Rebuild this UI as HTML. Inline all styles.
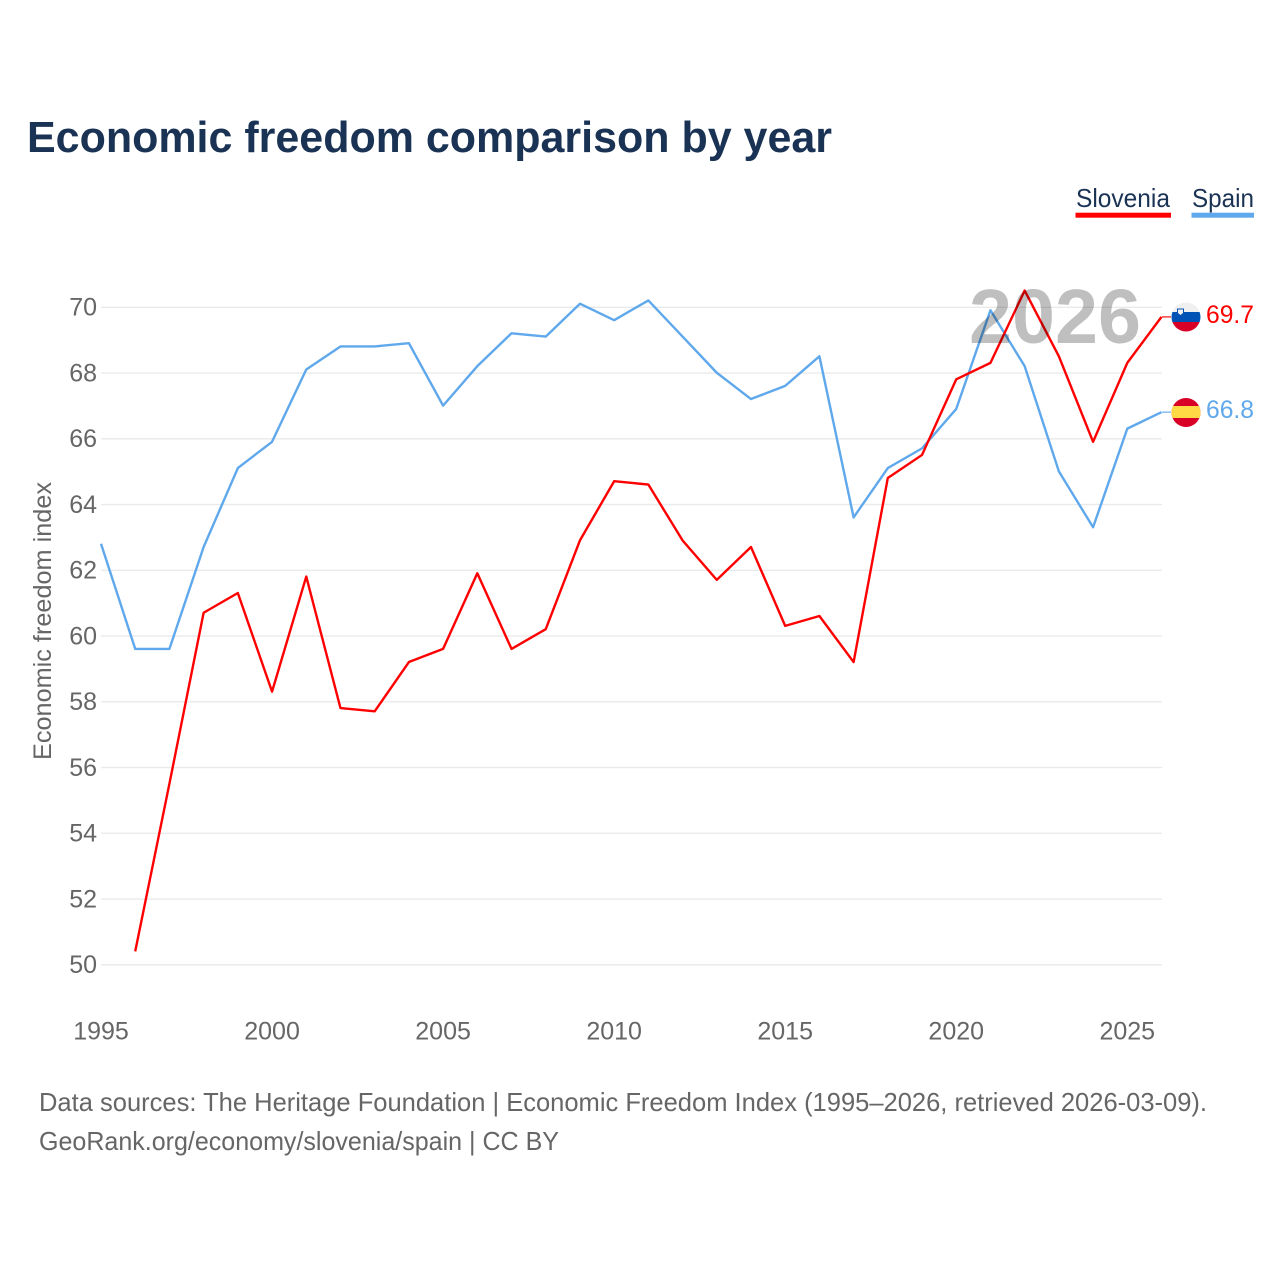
<!DOCTYPE html>
<html lang="en">
<head>
<meta charset="utf-8">
<title>Economic freedom comparison by year</title>
<style>
html,body{margin:0;padding:0;background:#fff;width:1280px;height:1280px;overflow:hidden}
svg{display:block;font-family:"Liberation Sans",sans-serif}
</style>
</head>
<body>
<svg id="chart" width="1280" height="1280" viewBox="0 0 1280 1280" xmlns="http://www.w3.org/2000/svg">
  <defs>
    <clipPath id="flag-clip-si"><circle cx="1186" cy="317" r="14.5"/></clipPath>
    <clipPath id="flag-clip-es"><circle cx="1186" cy="412.5" r="14.5"/></clipPath>
  </defs>
  <rect width="1280" height="1280" fill="#fff"/>
  <text x="27" y="152" font-size="44" font-weight="700" fill="#1a3354" textLength="805" lengthAdjust="spacingAndGlyphs">Economic freedom comparison by year</text>

  <g>
    <g>
      <text x="1076" y="207" font-size="26" fill="#1a3354" textLength="94" lengthAdjust="spacingAndGlyphs">Slovenia</text>
      <rect x="1075.5" y="212.7" width="95.5" height="5" fill="#ff0000"/>
    </g>
    <g>
      <text x="1192" y="207" font-size="26" fill="#1a3354" textLength="62" lengthAdjust="spacingAndGlyphs">Spain</text>
      <rect x="1191.5" y="212.7" width="62.5" height="5" fill="#5fa8ec"/>
    </g>
  </g>

  <g id="grid"></g>
  <g id="y-ticks"></g>
  <g id="x-ticks"></g>
  <text transform="translate(51,621) rotate(-90)" text-anchor="middle" font-size="25" fill="#666" textLength="278" lengthAdjust="spacingAndGlyphs">Economic freedom index</text>

  <g id="series"></g>

  <text x="1055" y="343" text-anchor="middle" font-size="77" font-weight="700" fill="#000" fill-opacity="0.25" textLength="172" lengthAdjust="spacingAndGlyphs">2026</text>

  <g clip-path="url(#flag-clip-si)">
    <rect x="1171" y="302" width="30" height="10" fill="#f0f0f0"/>
    <rect x="1171" y="312" width="30" height="10" fill="#0052b4"/>
    <rect x="1171" y="322" width="30" height="10" fill="#d80027"/>
    <path d="M1177 308.500h7v5l-3.500 3l-3.500-3z" fill="#0052b4"/>
    <path d="M1178 309.500h5v3.500l-2.500 2l-2.500-2z" fill="#f0f0f0"/>
  </g>
  <g clip-path="url(#flag-clip-es)">
    <rect x="1171" y="397" width="30" height="31" fill="#d80027"/>
    <rect x="1171" y="406" width="30" height="12" fill="#ffda44"/>
  </g>
  <g id="end-labels"></g>

  <text x="39" y="1111" font-size="26" fill="#666" textLength="1168" lengthAdjust="spacingAndGlyphs">Data sources: The Heritage Foundation | Economic Freedom Index (1995–2026, retrieved 2026-03-09).</text>
  <text x="39" y="1150" font-size="26" fill="#666" textLength="520" lengthAdjust="spacingAndGlyphs">GeoRank.org/economy/slovenia/spain | CC BY</text>
</svg>
<script>
const years = [1995,1996,1997,1998,1999,2000,2001,2002,2003,2004,2005,2006,2007,2008,2009,2010,2011,2012,2013,2014,2015,2016,2017,2018,2019,2020,2021,2022,2023,2024,2025,2026];
const sloveniaValues = [null,50.4,55.5,60.7,61.3,58.3,61.8,57.8,57.7,59.2,59.6,61.9,59.6,60.2,62.9,64.7,64.6,62.9,61.7,62.7,60.3,60.6,59.2,64.8,65.5,67.8,68.3,70.5,68.5,65.9,68.3,69.7];
const spainValues = [62.8,59.6,59.6,62.7,65.1,65.9,68.1,68.8,68.8,68.9,67.0,68.2,69.2,69.1,70.1,69.6,70.2,69.1,68.0,67.2,67.6,68.5,63.6,65.1,65.7,66.9,69.9,68.2,65.0,63.3,66.3,66.8];
const yTickValues = [50,52,54,56,58,60,62,64,66,68,70];
const xTickValues = [1995,2000,2005,2010,2015,2020,2025];

const NS = 'http://www.w3.org/2000/svg';
const xScale = function (year) { return 101 + (year - 1995) * (1161.500 - 101) / 31; };
const yScale = function (value) { return 964.500 - (value - 50) * (964.500 - 307) / 20; };
function make(tag, attrs, parent) {
  const el = document.createElementNS(NS, tag);
  for (const k in attrs) el.setAttribute(k, attrs[k]);
  parent.appendChild(el);
  return el;
}

const grid = document.getElementById('grid');
const yTicks = document.getElementById('y-ticks');
yTickValues.forEach(function (v) {
  const line = make('line', {x1: 101, x2: 1162, y1: yScale(v) + 0.3, y2: yScale(v) + 0.3, stroke: '#eaeaea', 'stroke-width': 1.3}, grid);
  
  
  const label = make('text', {x: 97, y: yScale(v) + 8.5, 'text-anchor': 'end', 'font-size': 25, fill: '#666'}, yTicks);
  
  
  label.textContent = v;
});

const xTicks = document.getElementById('x-ticks');
xTickValues.forEach(function (year) {
  const label = make('text', {x: xScale(year), y: 1039.500, 'text-anchor': 'middle', 'font-size': 25, fill: '#666'}, xTicks);
  
  
  label.textContent = year;
});

function pathFor(values) {
  let d = '';
  let pen = false;
  values.forEach(function (v, i) {
    if (v === null) { pen = false; return; }
    d += (pen ? 'L' : 'M') + xScale(years[i]).toFixed(2) + ' ' + yScale(v).toFixed(2);
    pen = true;
  });
  return d;
}

const seriesGroup = document.getElementById('series');
const labelGroup = document.getElementById('end-labels');

const spainLine = make('path', {d: pathFor(spainValues), fill: 'none', stroke: '#5fa8ec', 'stroke-width': 2.4, 'stroke-linejoin': 'round'}, seriesGroup);


const sloveniaLine = make('path', {d: pathFor(sloveniaValues), fill: 'none', stroke: '#ff0000', 'stroke-width': 2.4, 'stroke-linejoin': 'round'}, seriesGroup);



const sloveniaLast = sloveniaValues[sloveniaValues.length - 1];
const spainLast = spainValues[spainValues.length - 1];

const sloveniaConnector = make('line', {x1: 1162, x2: 1171, y1: yScale(sloveniaLast), y2: yScale(sloveniaLast), stroke: '#ff0000', 'stroke-width': 1.6, 'stroke-opacity': 0.7}, seriesGroup);


const spainConnector = make('line', {x1: 1162, x2: 1171, y1: yScale(spainLast), y2: yScale(spainLast), stroke: '#5fa8ec', 'stroke-width': 1.6, 'stroke-opacity': 0.7}, seriesGroup);



const sloveniaLabel = make('text', {x: 1206, y: yScale(sloveniaLast) + 6, 'font-size': 25, fill: '#ff0000', textLength: 48, lengthAdjust: 'spacingAndGlyphs'}, labelGroup);


sloveniaLabel.textContent = sloveniaLast.toFixed(1);
const spainLabel = make('text', {x: 1206, y: yScale(spainLast) + 6, 'font-size': 25, fill: '#5fa8ec', textLength: 48, lengthAdjust: 'spacingAndGlyphs'}, labelGroup);


spainLabel.textContent = spainLast.toFixed(1);
</script>
</body>
</html>
